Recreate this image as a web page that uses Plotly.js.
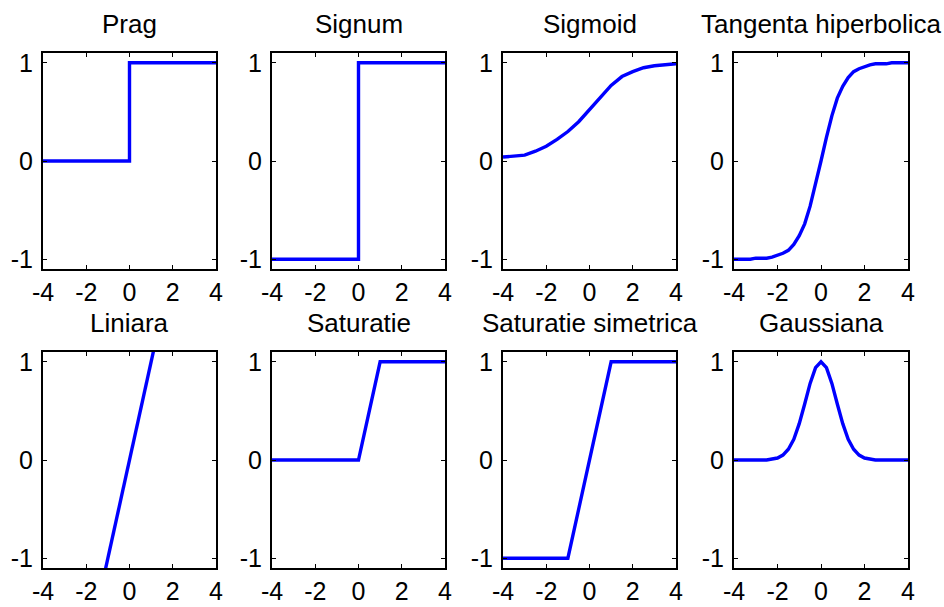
<!DOCTYPE html>
<html>
<head>
<meta charset="utf-8">
<script src="https://cdn.plot.ly/plotly-3.0.1.min.js"></script>
<style>html,body{margin:0;padding:0;background:#fff;}#chart{width:944px;height:607px;}</style>
</head>
<body>
<div id="chart"></div>
<script>
// ---- Data ----
var titles = ['Prag', 'Signum', 'Sigmoid', 'Tangenta hiperbolica',
              'Liniara', 'Saturatie', 'Saturatie simetrica', 'Gaussiana'];

var xTickVals = [-4, -2, 0, 2, 4];
var xTickLabels = ['-4', '-2', '0', '2', '4'];
var yTickVals = [-1, 0, 1];
var yTickLabels = ['-1', '0', '1'];

var pragX = [-4, 0, 0, 4];
var pragY = [0, 0, 1, 1];

var signumX = [-4, 0, 0, 4];
var signumY = [-1, -1, 1, 1];

var sigmoidX = [-4, -3.5, -3, -2.5, -2, -1.5, -1, -0.5, 0, 0.5, 1, 1.5, 2, 2.5, 3, 3.5, 4];
var sigmoidY = [0.04, 0.05, 0.06, 0.10, 0.15, 0.22, 0.30, 0.40, 0.52, 0.65, 0.77, 0.86, 0.91, 0.95, 0.97, 0.98, 0.99];

var tanhX = [-4, -3.75, -3.5, -3.25, -3, -2.75, -2.5, -2.25, -2, -1.75, -1.5, -1.25, -1, -0.75, -0.5, -0.25, 0,
             0.25, 0.5, 0.75, 1, 1.25, 1.5, 1.75, 2, 2.25, 2.5, 2.75, 3, 3.25, 3.5, 3.75, 4];
var tanhY = [-1.00, -1.00, -1.00, -1.00, -0.99, -0.99, -0.99, -0.98, -0.96, -0.94, -0.91, -0.85, -0.76, -0.64, -0.46, -0.24, 0,
             0.24, 0.46, 0.64, 0.76, 0.85, 0.91, 0.94, 0.96, 0.98, 0.99, 0.99, 0.99, 1.00, 1.00, 1.00, 1.00];

var linX = [-4, -3, -2, -1, 0, 1, 2, 3, 4];
var linY = [-4, -3, -2, -1, 0, 1, 2, 3, 4];

var satX = [-4, 0, 1, 4];
var satY = [0, 0, 1, 1];

var satSimX = [-4, -1, 1, 4];
var satSimY = [-1, -1, 1, 1];

var gaussX = [-4, -3.5, -3, -2.5, -2.25, -2, -1.75, -1.5, -1.25, -1, -0.75, -0.5, -0.25, 0,
              0.25, 0.5, 0.75, 1, 1.25, 1.5, 1.75, 2, 2.25, 2.5, 3, 3.5, 4];
var gaussY = [0, 0, 0, 0, 0.01, 0.02, 0.05, 0.11, 0.21, 0.37, 0.57, 0.78, 0.94, 1,
              0.94, 0.78, 0.57, 0.37, 0.21, 0.11, 0.05, 0.02, 0.01, 0, 0, 0, 0];

var seriesX = [pragX, signumX, sigmoidX, tanhX, linX, satX, satSimX, gaussX];
var seriesY = [pragY, signumY, sigmoidY, tanhY, linY, satY, satSimY, gaussY];

// ---- Layout geometry (pixels in a 944x607 figure) ----
var W = 944, H = 607;
var colPx = [[43, 216], [272, 445], [503, 676], [734, 908]];
var rowPx = [[53, 269], [352, 568]];

var font = 'Liberation Sans, Arial, sans-serif';
var data = [];
var layout = {
  width: W, height: H,
  margin: {l: 0, r: 0, t: 0, b: 0, pad: 0},
  paper_bgcolor: '#ffffff', plot_bgcolor: '#ffffff',
  showlegend: false,
  font: {family: font, size: 25, color: '#000000'},
  annotations: []
};

for (var i = 0; i < 8; i++) {
  var r = Math.floor(i / 4), c = i % 4;
  var n = i + 1;
  var xa = 'xaxis' + (n === 1 ? '' : n), ya = 'yaxis' + (n === 1 ? '' : n);
  var xr = 'x' + (n === 1 ? '' : n), yr = 'y' + (n === 1 ? '' : n);
  data.push({
    type: 'scatter', mode: 'lines',
    x: seriesX[i], y: seriesY[i],
    xaxis: xr, yaxis: yr,
    line: {color: '#0000ff', width: 3.4},
    cliponaxis: true, hoverinfo: 'skip'
  });
  var common = {
    showline: true, linecolor: '#000000', linewidth: 2, mirror: 'ticks',
    ticks: 'inside', ticklen: 4, tickwidth: 1, tickcolor: '#000000',
    showgrid: false, zeroline: false, fixedrange: true,
    tickfont: {family: font, size: 25, color: '#000000'}
  };
  layout[xa] = Object.assign({}, common, {
    domain: [colPx[c][0] / W, colPx[c][1] / W],
    range: [-4, 4], tickmode: 'array', tickvals: xTickVals, ticktext: xTickLabels,
    anchor: yr, ticklabelstandoff: 0
  });
  layout[ya] = Object.assign({}, common, {
    domain: [1 - rowPx[r][1] / H, 1 - rowPx[r][0] / H],
    range: [-1.1, 1.1], tickmode: 'array', tickvals: yTickVals, ticktext: yTickLabels,
    anchor: xr, ticklabelstandoff: 3
  });
  layout.annotations.push({
    text: titles[i], xref: 'paper', yref: 'paper',
    x: (colPx[c][0] + colPx[c][1]) / 2 / W,
    y: 1 - (rowPx[r][0] - 12) / H,
    xanchor: 'center', yanchor: 'bottom', showarrow: false,
    font: {family: font, size: 26, color: '#000000'}
  });
}

Plotly.newPlot('chart', data, layout, {staticPlot: true, displayModeBar: false});
</script>
</body>
</html>
